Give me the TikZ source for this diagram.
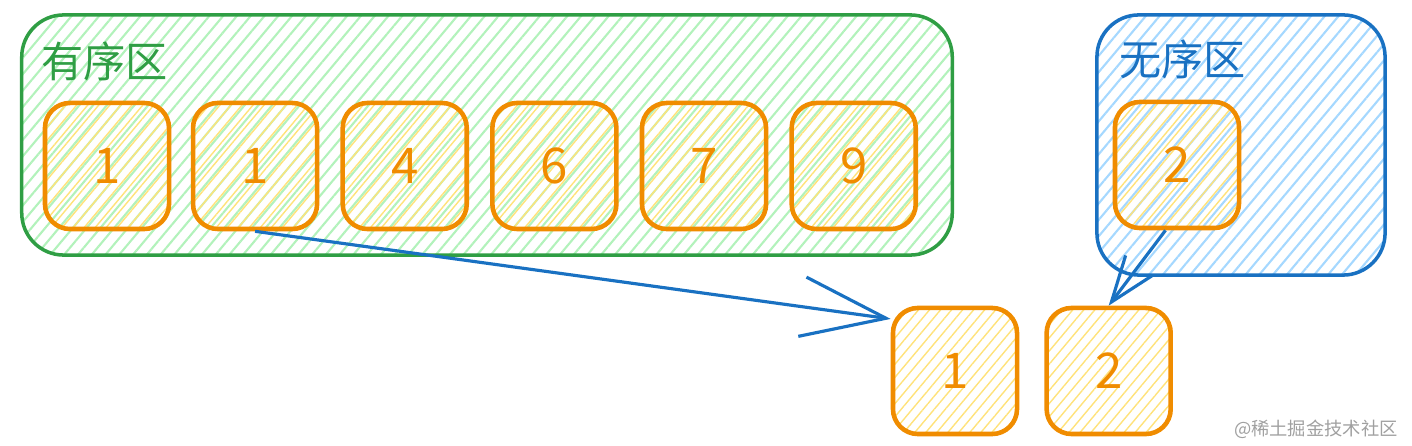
\documentclass[tikz,border=0pt]{standalone}
\usepackage{fontspec}
\setmainfont{Noto Sans CJK SC}
\usetikzlibrary{shapes,arrows.meta,positioning,patterns.meta}
\definecolor{ordgreen}{HTML}{2F9E44}
\definecolor{hatchgreen}{HTML}{B2F2BB}
\definecolor{unordblue}{HTML}{1971C2}
\definecolor{hatchblue}{HTML}{A5D8FF}
\definecolor{numorange}{HTML}{F08C00}
\definecolor{hatchyellow}{HTML}{FFE27A}
\definecolor{markgray}{HTML}{A0A0A0}

\begin{document}
\begin{tikzpicture}[x=0.01cm,y=-0.01cm]
   \tikzset{zone node/.style={rectangle, draw, line width=1pt,
   		rounded corners=0.42cm}, }
   \tikzset{ordered zone/.style={draw=ordgreen, minimum width=9.3cm, minimum height=2.4cm,
   		pattern={Lines[angle=50,distance=3pt,line width=0.6pt]}, pattern color=hatchgreen}, }
   \tikzset{unordered zone/.style={draw=unordblue, minimum width=2.88cm, minimum height=2.6cm,
   		pattern={Lines[angle=50,distance=3pt,line width=0.6pt]}, pattern color=hatchblue}, }
   \tikzset{num node/.style={rectangle, draw=numorange, line width=1.3pt,
   		rounded corners=0.25cm, minimum width=1.24cm, minimum height=1.26cm,
   		text=numorange, font=\fontsize{14}{14}\selectfont,
   		pattern={Lines[angle=50,distance=2.4pt,line width=0.4pt]}, pattern color=hatchyellow}, }
   \tikzset{label node/.style={anchor=west, font=\fontsize{12}{12}\selectfont}, }
   \tikzset{linea/.style={draw=unordblue, line width=0.9pt}, }

\useasboundingbox (0,0) rectangle (1412,446);
\node[zone node, ordered zone] (ord) at (487,135) {};
\node[zone node, unordered zone] (unord) at (1241,145) {};
\node[label node, text=ordgreen] (ordlbl) at (29,61) {有序区};
\node[label node, text=unordblue] (unordlbl) at (1107,59) {无序区};
% ordered part
\node[num node] (s1) at (107,166) {1};
\node[num node] (s2) [right=0.21cm of s1] {1};
\node[num node] (s3) [right=0.21cm of s2] {4};
\node[num node] (s4) [right=0.21cm of s3] {6};
\node[num node] (s5) [right=0.21cm of s4] {7};
\node[num node] (s6) [right=0.21cm of s5] {9};
% unordered part
\node[num node] (u1) at (1177,165) {2};
% picked out
\node[num node] (o1) at (955,371) {1};
\node[num node] (o2) [right=0.25cm of o1] {2};
\draw[linea, -{Straight Barb[length=24pt,width=17pt]}] (s2.south) -- (o1.141);
\draw[linea, -{Straight Barb[length=13pt,width=9.5pt]}] (u1.-100) -- (o2.north);
%
\node[anchor=east, text=markgray, font=\fontsize{5.2}{5.2}\selectfont] (mark) at (1410,429) {@稀土掘金技术社区};
\end{tikzpicture}
\end{document}
